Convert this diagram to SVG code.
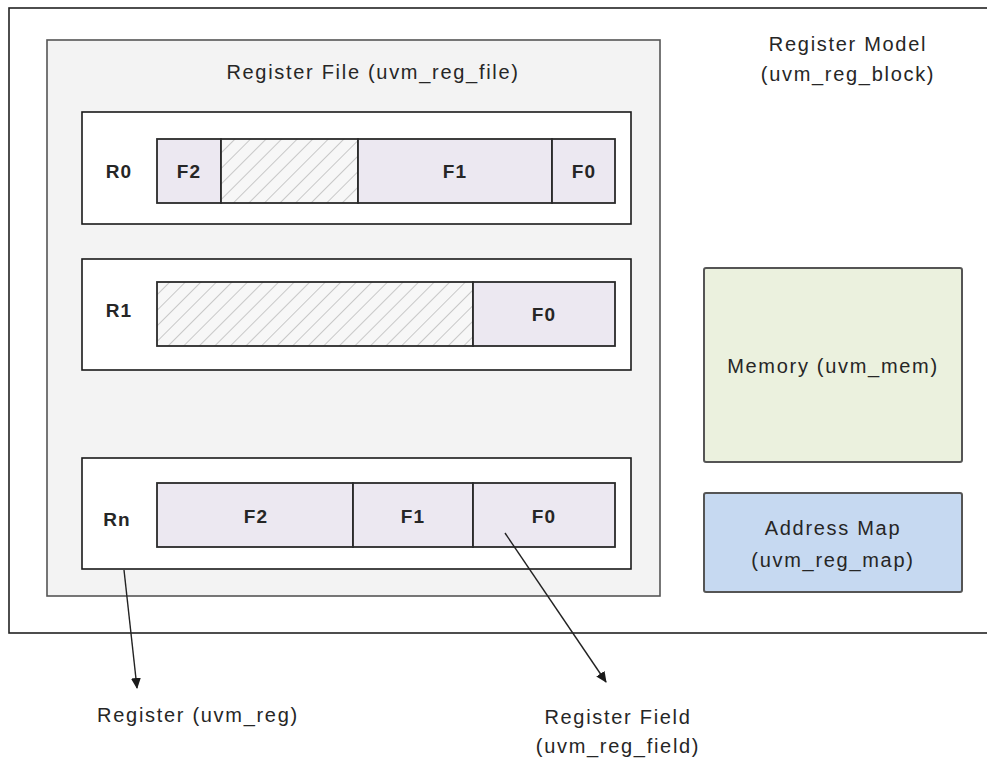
<svg xmlns="http://www.w3.org/2000/svg" width="987" height="760" viewBox="0 0 987 760">
  <style>
    .lbl { font-family: "Liberation Sans", Arial, sans-serif; font-size: 20px; letter-spacing: 1.7px; fill: #262626; text-anchor: middle; }
    .bold { font-weight: bold; font-size: 19px; letter-spacing: 1.2px; }
    .reg { fill: #ffffff; stroke: #1a1a1a; stroke-width: 1.6; }
    .fld { fill: #ece8f1; stroke: #2a2a2a; stroke-width: 1.8; }
    .rsv { fill: url(#hatch); stroke: #2a2a2a; stroke-width: 1.8; }
    .conn { stroke: #222; stroke-width: 1.4; fill: none; marker-end: url(#arrow); }
  </style>
  <defs>
    <pattern id="hatch" patternUnits="userSpaceOnUse" width="11" height="11" patternTransform="rotate(45)">
      <rect width="11" height="11" fill="#f7f7f7"/>
      <line x1="0" y1="0" x2="0" y2="11" stroke="#9a9a9a" stroke-width="1"/>
    </pattern>
    <marker id="arrow" markerWidth="12" markerHeight="12" refX="10" refY="5" orient="auto" markerUnits="userSpaceOnUse">
      <path d="M0,0 L11,5 L0,10 z" fill="#1a1a1a"/>
    </marker>
  </defs>

  <rect width="987" height="760" fill="#ffffff"/>

  <!-- Register model (uvm_reg_block) -->
  <g id="register-model">
    <rect x="9" y="8" width="990" height="625" fill="#ffffff" stroke="#222" stroke-width="1.6"/>
    <text class="lbl" x="848" y="51">Register Model</text>
    <text class="lbl" x="848" y="81">(uvm_reg_block)</text>
  </g>

  <!-- Register file -->
  <g id="register-file">
    <rect x="47" y="40" width="613" height="556" fill="#f3f3f3" stroke="#555" stroke-width="1.6"/>
    <text class="lbl" x="373" y="79">Register File (uvm_reg_file)</text>
  </g>

  <!-- R0 -->
  <g id="reg-r0">
    <rect class="reg" x="82" y="112" width="549" height="112"/>
    <text class="lbl bold" x="119" y="178">R0</text>
    <rect class="fld" x="157" y="139" width="64" height="64"/>
    <rect class="rsv" x="221" y="139" width="137" height="64"/>
    <rect class="fld" x="358" y="139" width="194" height="64"/>
    <rect class="fld" x="552" y="139" width="63" height="64"/>
    <text class="lbl bold" x="189" y="178">F2</text>
    <text class="lbl bold" x="455" y="178">F1</text>
    <text class="lbl bold" x="584" y="178">F0</text>
  </g>

  <!-- R1 -->
  <g id="reg-r1">
    <rect class="reg" x="82" y="259" width="549" height="111"/>
    <text class="lbl bold" x="119" y="317">R1</text>
    <rect class="rsv" x="157" y="282" width="316" height="64"/>
    <rect class="fld" x="473" y="282" width="142" height="64"/>
    <text class="lbl bold" x="544" y="321">F0</text>
  </g>

  <!-- Rn -->
  <g id="reg-rn">
    <rect class="reg" x="82" y="458" width="549" height="111"/>
    <text class="lbl bold" x="117" y="526">Rn</text>
    <rect class="fld" x="157" y="483" width="196" height="64"/>
    <rect class="fld" x="353" y="483" width="120" height="64"/>
    <rect class="fld" x="473" y="483" width="142" height="64"/>
    <text class="lbl bold" x="256" y="523">F2</text>
    <text class="lbl bold" x="413" y="523">F1</text>
    <text class="lbl bold" x="544" y="523">F0</text>
  </g>

  <!-- Memory -->
  <g id="memory">
    <rect x="704" y="268" width="258" height="194" rx="2" fill="#ebf1de" stroke="#555" stroke-width="2"/>
    <text class="lbl" x="833" y="373">Memory (uvm_mem)</text>
  </g>

  <!-- Address map -->
  <g id="address-map">
    <rect x="704" y="493" width="258" height="99" rx="2" fill="#c6d9f1" stroke="#555" stroke-width="2"/>
    <text class="lbl" x="833" y="535">Address Map</text>
    <text class="lbl" x="833" y="567">(uvm_reg_map)</text>
  </g>

  <!-- Callout labels -->
  <g id="label-register">
    <text class="lbl" x="198" y="722">Register (uvm_reg)</text>
  </g>
  <g id="label-field">
    <text class="lbl" x="618" y="724">Register Field</text>
    <text class="lbl" x="618" y="753">(uvm_reg_field)</text>
  </g>

  <!-- Connectors -->
  <g id="connectors">
    <line class="conn" x1="124" y1="570" x2="137" y2="688"/>
    <line class="conn" x1="505" y1="533" x2="606" y2="682"/>
  </g>
</svg>
